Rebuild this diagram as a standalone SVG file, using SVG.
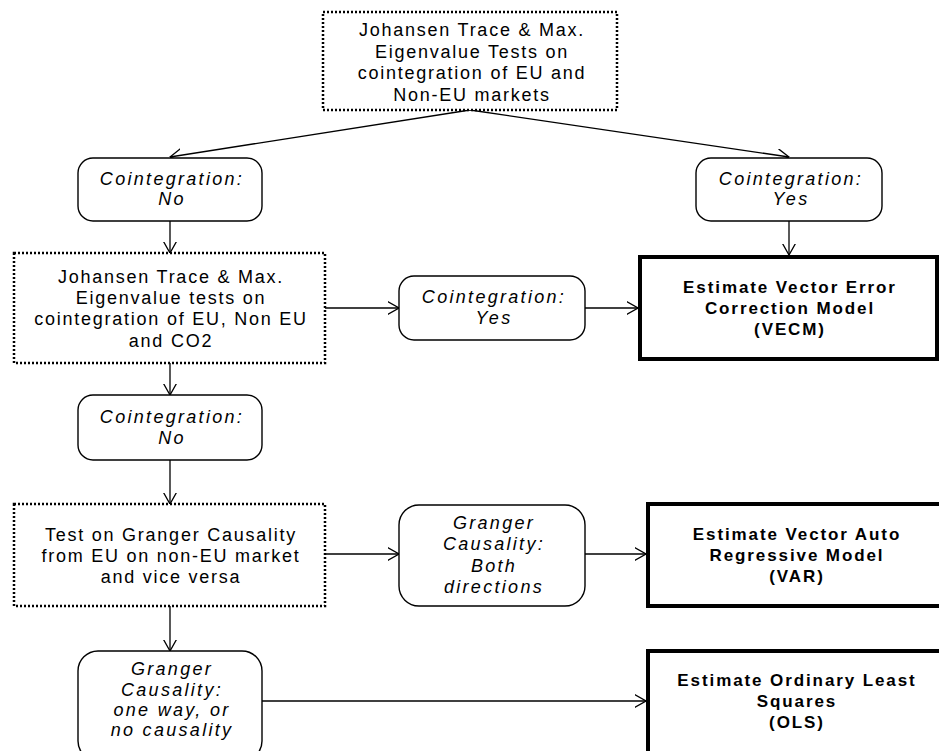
<svg xmlns="http://www.w3.org/2000/svg" width="939" height="751" viewBox="0 0 939 751">
<style>
.dot{fill:#fff;stroke:#000;stroke-width:2.5;stroke-dasharray:2 2}
.rnd{fill:#fff;stroke:#000;stroke-width:1.4}
.thk{fill:#fff;stroke:#000;stroke-width:4}
.reg{font-family:"Liberation Sans",Arial,sans-serif;font-size:18px;letter-spacing:1.75px;text-anchor:middle;fill:#000}
.it{font-family:"Liberation Sans",Arial,sans-serif;font-size:18px;font-style:italic;letter-spacing:2.3px;text-anchor:middle;fill:#000}
.bd{font-family:"Liberation Sans",Arial,sans-serif;font-size:17px;font-weight:bold;letter-spacing:1.9px;text-anchor:middle;fill:#000}
.con path{fill:none;stroke:#000;stroke-width:1.3}
</style>
<defs>
<marker id="arr" viewBox="0 0 12 14" refX="11.5" refY="7" markerWidth="12" markerHeight="14" orient="auto" markerUnits="userSpaceOnUse">
<path d="M0,0.5 L11.5,7 L0,13.5" fill="none" stroke="#000" stroke-width="1.3"/>
</marker>
</defs>
<rect width="939" height="751" fill="#fff"/>
<g class="con">
<path d="M470,110 L170,157" marker-end="url(#arr)"/>
<path d="M470,110 L789,157" marker-end="url(#arr)"/>
<path d="M170,221 L170,253" marker-end="url(#arr)"/>
<path d="M789,221 L789,255" marker-end="url(#arr)"/>
<path d="M325,308 L399,308" marker-end="url(#arr)"/>
<path d="M585,308 L638,308" marker-end="url(#arr)"/>
<path d="M170,363 L170,395" marker-end="url(#arr)"/>
<path d="M170,460 L170,504" marker-end="url(#arr)"/>
<path d="M325,554 L399,554" marker-end="url(#arr)"/>
<path d="M585,554 L646,554" marker-end="url(#arr)"/>
<path d="M170,606 L170,651" marker-end="url(#arr)"/>
<path d="M262,701 L646,701" marker-end="url(#arr)"/>
</g>
<g id="johansen1">
<rect class="dot" x="323" y="12" width="294" height="98"/>
<text class="reg" x="472" y="36">Johansen Trace  &amp; Max.</text>
<text class="reg" x="472" y="57.5">Eigenvalue Tests on</text>
<text class="reg" x="472" y="79">cointegration of EU and</text>
<text class="reg" x="472" y="100.5">Non-EU markets</text>
</g>
<g id="coint-no-1">
<rect class="rnd" x="78" y="158" width="184" height="63" rx="15"/>
<text class="it" x="172" y="185">Cointegration:</text>
<text class="it" x="172" y="205">No</text>
</g>
<g id="coint-yes-1">
<rect class="rnd" x="696" y="158" width="186" height="63" rx="15"/>
<text class="it" x="791" y="185">Cointegration:</text>
<text class="it" x="791" y="205">Yes</text>
</g>
<g id="johansen2">
<rect class="dot" x="14" y="253" width="311" height="110"/>
<text class="reg" x="171" y="283">Johansen Trace &amp; Max.</text>
<text class="reg" x="171" y="304">Eigenvalue tests on</text>
<text class="reg" x="171" y="325">cointegration of EU, Non EU</text>
<text class="reg" x="171" y="347">and CO2</text>
</g>
<g id="coint-yes-2">
<rect class="rnd" x="399" y="276" width="186" height="64" rx="15"/>
<text class="it" x="494" y="303">Cointegration:</text>
<text class="it" x="494" y="324">Yes</text>
</g>
<g id="vecm">
<rect class="thk" x="640" y="257" width="297" height="102"/>
<text class="bd" x="790" y="293">Estimate Vector Error</text>
<text class="bd" x="790" y="314">Correction Model</text>
<text class="bd" x="790" y="335">(VECM)</text>
</g>
<g id="coint-no-2">
<rect class="rnd" x="78" y="395" width="184" height="65" rx="15"/>
<text class="it" x="172" y="422.5">Cointegration:</text>
<text class="it" x="172" y="443.5">No</text>
</g>
<g id="granger-test">
<rect class="dot" x="14" y="504" width="311" height="102"/>
<text class="reg" x="171" y="541">Test on Granger Causality</text>
<text class="reg" x="171" y="561.5">from EU on non-EU market</text>
<text class="reg" x="171" y="582.5">and vice versa</text>
</g>
<g id="granger-both">
<rect class="rnd" x="399" y="505" width="186" height="101" rx="20"/>
<text class="it" x="494" y="528.5">Granger</text>
<text class="it" x="494" y="550">Causality:</text>
<text class="it" x="494" y="571.5">Both</text>
<text class="it" x="494" y="593">directions</text>
</g>
<g id="var">
<rect class="thk" x="648" y="504" width="300" height="102"/>
<text class="bd" x="797" y="540">Estimate Vector Auto</text>
<text class="bd" x="797" y="561">Regressive Model</text>
<text class="bd" x="797" y="582">(VAR)</text>
</g>
<g id="granger-oneway">
<rect class="rnd" x="78" y="651" width="184" height="110" rx="20"/>
<text class="it" x="172" y="675">Granger</text>
<text class="it" x="172" y="695.5">Causality:</text>
<text class="it" x="172" y="715.5">one way, or</text>
<text class="it" x="172" y="736">no causality</text>
</g>
<g id="ols">
<rect class="thk" x="648" y="651" width="300" height="110"/>
<text class="bd" x="797" y="686">Estimate Ordinary Least</text>
<text class="bd" x="797" y="707">Squares</text>
<text class="bd" x="797" y="728">(OLS)</text>
</g>
</svg>
